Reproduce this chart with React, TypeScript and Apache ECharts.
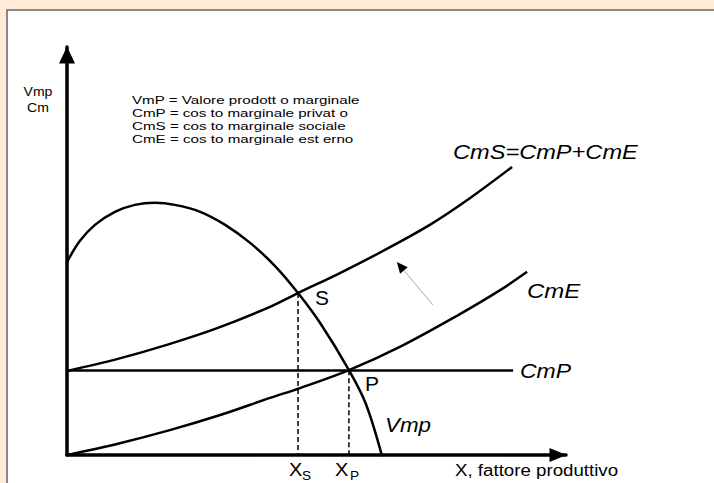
import React, { useEffect, useRef } from 'react';
import * as echarts from 'echarts';

// Curves, in axis units (x: 0..10, y: 0..10)
const cmP: number[][] = [[0, 2.07], [8.94, 2.07]];
const cmE: number[][] = [
  [0, 0], [1.06, 0.29], [2.06, 0.61], [3.07, 0.98], [4.07, 1.4], [4.67, 1.64],
  [5.65, 2.08], [6.67, 2.65], [7.84, 3.43], [8.68, 4.04], [9.22, 4.49],
];
const cmS: number[][] = [
  [0, 2.06], [1.0, 2.35], [2.0, 2.7], [3.01, 3.11], [4.01, 3.6], [4.63, 3.97],
  [5.47, 4.46], [6.33, 5.0], [7.27, 5.64], [8.08, 6.3], [8.92, 7.06],
];
const vmp: number[][] = [
  [0, 4.73], [0.26, 5.25], [0.56, 5.64], [0.96, 5.96], [1.36, 6.13], [1.76, 6.18],
  [2.16, 6.13], [2.67, 5.96], [3.17, 5.64], [3.67, 5.2], [4.17, 4.63], [4.63, 3.97],
  [5.07, 3.24], [5.65, 2.08], [5.99, 1.25], [6.33, -0.1],
];
const pointS: number[] = [4.63, 3.97];
const pointP: number[] = [5.65, 2.08];
const shiftArrow: number[][] = [[7.33, 3.68], [6.61, 4.73]];

const legendLines: string[] = [
  'VmP = Valore prodott o marginale',
  'CmP = cos to marginale privat o',
  'CmS = cos to marginale sociale',
  'CmE = cos to marginale est erno',
];
const yAxisTitle: string[] = ['Vmp', 'Cm'];
const xAxisTitle = 'X, fattore produttivo';

const FONT = '"Liberation Sans", Arial, sans-serif';

function txt(text: string, x: number, y: number, size: number, opts: any = {}) {
  return {
    type: 'text',
    x,
    y,
    scaleX: opts.scaleX ?? 1,
    z: 10,
    style: {
      text,
      fill: '#000',
      font: `${opts.italic ? 'italic ' : ''}${size}px ${FONT}`,
      align: opts.align ?? 'left',
      verticalAlign: 'middle',
      textAlign: opts.align ?? 'left',
      textVerticalAlign: 'middle',
    },
  };
}

export default function App() {
  const ref = useRef<HTMLDivElement>(null);
  useEffect(() => {
    if (!ref.current) return;
    const chart = echarts.init(ref.current, undefined, { renderer: 'svg' });
    const black = { color: '#000', width: 2.5 };
    const line = (data: number[][], extra: any = {}) => ({
      type: 'line',
      data,
      smooth: 0.35,
      showSymbol: false,
      symbol: 'none',
      silent: true,
      lineStyle: black,
      z: 3,
      ...extra,
    });
    const dashed = { color: '#000', width: 1.5, type: [5, 3] };
    const axisLine = (size: number[]) => ({
      show: true,
      onZero: false,
      symbol: ['none', 'triangle'],
      symbolSize: size,
      symbolOffset: [0, -8],
      lineStyle: { color: '#000', width: 3.5 },
    });
    const graphics: any[] = [
      {
        type: 'rect',
        shape: { x: 7, y: 10, width: 900, height: 700 },
        style: { fill: '#fff', stroke: '#666', lineWidth: 1.5 },
        z: -10,
      },
      txt(yAxisTitle[0], 38, 92, 13, { align: 'center', scaleX: 1.08 }),
      txt(yAxisTitle[1], 38, 108, 13, { align: 'center', scaleX: 1.08 }),
      ...legendLines.map((l, i) => txt(l, 132, 100 + i * 13, 11.5, { scaleX: 1.32 })),
      txt('CmS=CmP+CmE', 453, 152, 20, { italic: true, scaleX: 1.18 }),
      txt('CmE', 527, 291, 20, { italic: true, scaleX: 1.2 }),
      txt('CmP', 520, 371, 20, { italic: true, scaleX: 1.15 }),
      txt('Vmp', 385, 425, 20, { italic: true, scaleX: 1.12 }),
      txt('S', 315, 298, 20, { scaleX: 1.05 }),
      txt('P', 365, 384, 20, { scaleX: 1.05 }),
      txt('X', 289, 469, 19, { scaleX: 1.05 }),
      txt('S', 302, 476, 13, { scaleX: 1.05 }),
      txt('X', 335, 469, 19, { scaleX: 1.05 }),
      txt('P', 350, 476, 13, { scaleX: 1.05 }),
      txt(xAxisTitle, 455, 470, 17, { scaleX: 1.1 }),
    ];
    const option: any = {
      animation: false,
      backgroundColor: '#FFEBD6',
      grid: { left: 67, right: 148, top: 47, bottom: 28 },
      xAxis: {
        type: 'value', min: 0, max: 10,
        axisLine: axisLine([14, 17]),
        axisTick: { show: false }, axisLabel: { show: false }, splitLine: { show: false },
      },
      yAxis: {
        type: 'value', min: 0, max: 10,
        axisLine: axisLine([16, 17]),
        axisTick: { show: false }, axisLabel: { show: false }, splitLine: { show: false },
      },
      graphic: graphics,
      series: [
        line(cmP),
        line(cmE),
        line(cmS),
        line(vmp),
        line([pointS, [pointS[0], 0]], { smooth: false, lineStyle: dashed, z: 2 }),
        line([pointP, [pointP[0], 0]], { smooth: false, lineStyle: dashed, z: 2 }),
      ],
    };
    chart.setOption(option);
    // shift arrow, placed through the grid's own scale
    const tail = chart.convertToPixel({ gridIndex: 0 }, shiftArrow[0]) as number[];
    const tip = chart.convertToPixel({ gridIndex: 0 }, shiftArrow[1]) as number[];
    const dx = tip[0] - tail[0];
    const dy = tip[1] - tail[1];
    const len = Math.sqrt(dx * dx + dy * dy);
    const ux = dx / len;
    const uy = dy / len;
    const headLen = 11;
    const headHalf = 5;
    const bx = tip[0] - ux * headLen;
    const by = tip[1] - uy * headLen;
    chart.setOption({
      graphic: [
        ...graphics,
        {
          type: 'line',
          z: 9,
          shape: { x1: tail[0], y1: tail[1], x2: bx, y2: by },
          style: { stroke: '#aaa', lineWidth: 1 },
        },
        {
          type: 'polygon',
          z: 9,
          shape: {
            points: [
              [tip[0], tip[1]],
              [bx - uy * headHalf, by + ux * headHalf],
              [bx + uy * headHalf, by - ux * headHalf],
            ],
          },
          style: { fill: '#000' },
        },
      ],
    });
    return () => chart.dispose();
  }, []);
  return <div ref={ref} style={{ position: 'absolute', left: 0, top: 0, width: 714, height: 483 }} />;
}
